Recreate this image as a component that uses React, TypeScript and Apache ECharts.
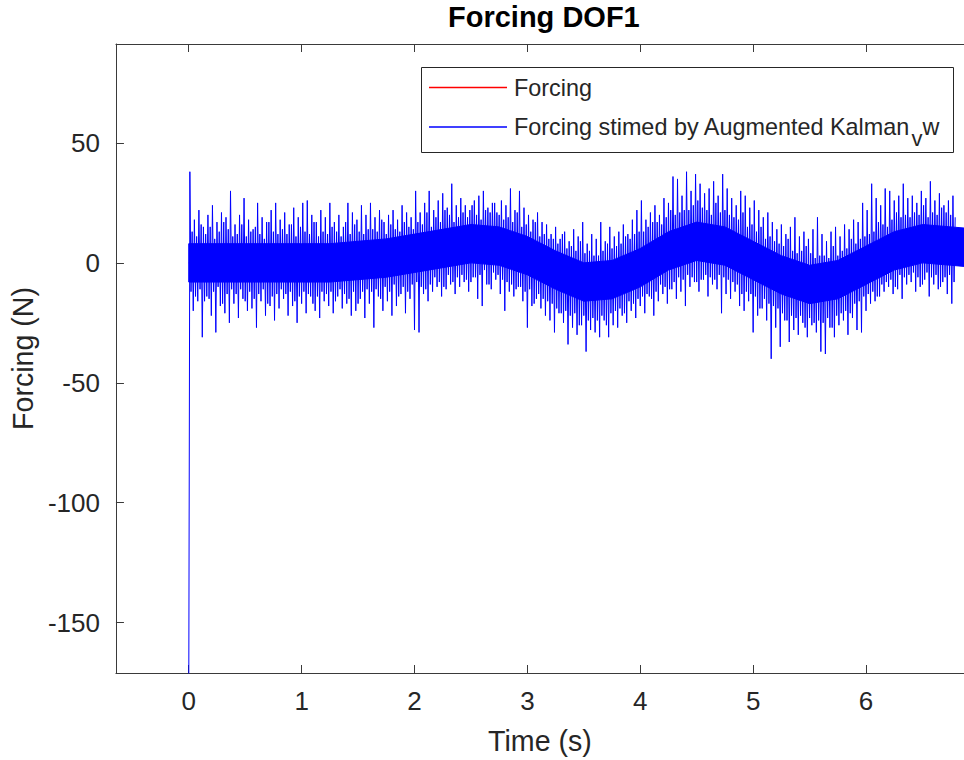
import React, { useEffect, useRef } from 'react';
import * as echarts from 'echarts';

// Sampling grids
const SPIKE_STEP = 0.04; // four samples per step: low, high, midLow, midHigh
const CORE_STEP = 0.25;

// Axis ticks
const xTicks = [0, 1, 2, 3, 4, 5, 6];
const yTicks = [-150, -100, -50, 0, 50];

// "Forcing" (red, lies under the estimate) at CORE_STEP
const forcing = [0, 0, 0, 0, 0, 0, 1, 2, 4, 6, 8, 7, 3, -3, -8, -7, -2, 5, 9, 7, 1, -5, -9, -7, -1, 5, 8, 7, 6];

// Dense core of the estimate (upper/lower edges) at CORE_STEP
const coreUpper = [8, 8, 8, 8, 8, 8, 9, 10, 12, 14, 16, 15, 11, 5, 0, 1, 6, 13, 17, 15, 9, 3, -1, 1, 7, 13, 16, 15, 14];
const coreLower = [-8, -8, -8, -8, -8, -8, -7, -6, -4, -2, 0, -1, -5, -11, -16, -15, -10, -3, 1, -1, -7, -13, -17, -15, -9, -3, 0, -1, -2];

// Tall spike peaks of the estimate
const highs = [
  38, 18, 22, 15, 20, 24, 17, 21, 19, 30,
  16, 20, 27, 18, 14, 25, 19, 17, 22, 25,
  18, 21, 16, 23, 19, 25, 26, 20, 17, 22,
  19, 25, 17, 20, 15, 25, 21, 18, 24, 20,
  25, 19, 22, 17, 20, 22, 18, 24, 21, 19,
  30, 21, 25, 30, 22, 26, 29, 23, 33, 24,
  27, 24, 22, 26, 28, 30, 23, 25, 21, 26,
  24, 31, 22, 30, 23, 20, 18, 21, 17, 16,
  12, 15, 10, 13, 9, 14, 11, 17, 8, 12,
  10, 17, 9, 15, 11, 13, 16, 12, 18, 22,
  26, 18, 21, 24, 20, 27, 25, 36, 35, 28,
  38, 30, 37, 33, 29, 31, 34, 28, 37, 31,
  27, 24, 30, 28, 23, 26, 22, 19, 21, 17,
  14, 16, 12, 15, 19, 11, 13, 10, 14, 19,
  12, 9, 13, 15, 11, 16, 14, 18, 17, 25,
  22, 33, 27, 24, 31, 30, 26, 28, 33, 27,
  28, 25, 30, 27, 34, 26, 29, 24, 26, 28,
];
const lows = [
  -185, -20, -16, -31, -14, -22, -29, -18, -21, -25,
  -17, -23, -15, -20, -19, -27, -16, -22, -18, -24,
  -19, -15, -22, -18, -25, -17, -21, -14, -20, -23,
  -16, -18, -21, -14, -19, -17, -22, -20, -15, -23,
  -17, -27, -14, -20, -16, -22, -18, -13, -21, -15,
  -28, -29, -13, -16, -12, -10, -14, -11, -9, -13,
  -10, -8, -12, -6, -15, -18, -9, -11, -7, -13,
  -20, -12, -14, -10, -16, -27, -18, -15, -19, -22,
  -24, -29, -21, -25, -34, -27, -30, -26, -37, -28,
  -29, -31, -24, -31, -26, -27, -22, -25, -20, -23,
  -18, -21, -14, -22, -16, -13, -17, -11, -15, -12,
  -18, -10, -8, -12, -7, -14, -9, -11, -21, -13,
  -15, -12, -18, -20, -16, -29, -22, -19, -24, -40,
  -27, -35, -24, -33, -28, -30, -25, -31, -26, -29,
  -37, -38, -27, -31, -26, -24, -30, -23, -28, -29,
  -20, -17, -16, -14, -12, -10, -13, -11, -15, -9,
  -8, -12, -10, -7, -14, -9, -11, -8, -13, -17,
];

// Medium spikes in between
const midHighs = [
  13, 11, 16, 12, 15, 10, 13, 17, 14, 11,
  12, 16, 11, 13, 15, 12, 10, 17, 13, 12,
  14, 12, 16, 11, 15, 13, 12, 17, 11, 13,
  12, 15, 13, 11, 17, 12, 16, 13, 12, 14,
  14, 13, 18, 12, 16, 14, 13, 17, 15, 14,
  17, 16, 21, 15, 19, 17, 22, 20, 17, 19,
  21, 19, 24, 20, 18, 22, 21, 25, 20, 18,
  19, 17, 21, 15, 16, 13, 17, 11, 12, 10,
  10, 8, 12, 6, 7, 5, 9, 4, 5, 3,
  3, 5, 8, 6, 7, 8, 11, 10, 12, 13,
  13, 15, 17, 17, 16, 19, 22, 20, 21, 22,
  22, 24, 26, 23, 22, 20, 25, 21, 22, 20,
  19, 18, 21, 15, 16, 13, 15, 10, 11, 9,
  8, 7, 10, 5, 4, 5, 7, 4, 2, 3,
  3, 2, 7, 3, 5, 6, 10, 8, 10, 11,
  12, 13, 17, 16, 15, 18, 21, 19, 20, 19,
  21, 20, 24, 19, 21, 20, 23, 21, 20, 19,
];
const midLows = [
  -12, -14, -11, -16, -15, -12, -10, -17, -13, -11,
  -13, -11, -16, -12, -15, -13, -11, -17, -14, -13,
  -11, -13, -12, -16, -14, -12, -13, -17, -14, -12,
  -13, -12, -16, -11, -13, -15, -12, -17, -12, -11,
  -12, -11, -15, -10, -12, -9, -14, -10, -12, -9,
  -8, -10, -11, -9, -6, -8, -10, -5, -8, -6,
  -5, -7, -8, -6, -5, -3, -9, -4, -5, -7,
  -8, -9, -11, -10, -12, -11, -17, -13, -15, -16,
  -17, -19, -21, -20, -22, -21, -26, -22, -24, -23,
  -24, -22, -26, -21, -20, -19, -21, -16, -17, -15,
  -14, -13, -15, -12, -9, -10, -11, -8, -6, -7,
  -5, -6, -8, -7, -5, -6, -7, -5, -6, -7,
  -8, -9, -13, -12, -13, -14, -19, -15, -17, -18,
  -19, -21, -24, -22, -23, -22, -27, -23, -25, -24,
  -25, -23, -27, -22, -21, -20, -21, -17, -16, -14,
  -13, -12, -14, -9, -8, -7, -10, -5, -6, -5,
  -4, -6, -9, -4, -6, -5, -10, -6, -5, -8,
];

const NAME_TRUE = 'Forcing';
const NAME_EST = 'Forcing stimed by Augmented Kalman_vw';
const LEGEND_MAIN = 'Forcing stimed by Augmented Kalman';
const LEGEND_SUB = 'v';
const LEGEND_TAIL = 'w';
const FONT = "'Liberation Sans', Arial, Helvetica, sans-serif";
const TEXT = '#262626';
const AXIS = '#3a3a3a';

function measure(text: string, size: number) {
  const c = document.createElement('canvas').getContext('2d');
  if (!c) return text.length * size * 0.5;
  c.font = `${size}px ${FONT}`;
  return c.measureText(text).width;
}

export default function App() {
  const ref = useRef<HTMLDivElement>(null);

  useEffect(() => {
    if (!ref.current) return;
    const chart = echarts.init(ref.current, undefined, { renderer: 'svg' });

    const forcingData = forcing.map((v, i) => [i * CORE_STEP, v]);
    const q = SPIKE_STEP / 4;
    const spikeData: number[][] = [];
    for (let i = 0; i < highs.length; i++) {
      const t = i * SPIKE_STEP;
      spikeData.push([t, lows[i]]);
      spikeData.push([t + q, highs[i]]);
      spikeData.push([t + 2 * q, midLows[i]]);
      spikeData.push([t + 3 * q, midHighs[i]]);
    }

    const xMin = -0.645;
    const xMax = 6.868;
    const yMin = -171;
    const yMax = 91.25;

    // legend geometry
    const LX = 421, LY = 67, LW = 532, LH = 85;
    const lineX0 = 429, lineX1 = 507, textX = 514;
    const row1 = 87.5, row2 = 127;
    const legendFont = 23.4;
    const subFont = 22;
    const mainW = measure(LEGEND_MAIN, legendFont);
    const subX = textX + mainW + 1;
    const tailX = subX + measure(LEGEND_SUB, subFont);

    chart.setOption({
      animation: false,
      backgroundColor: '#ffffff',
      title: {
        text: 'Forcing DOF1',
        left: 448,
        top: 2,
        padding: 0,
        textStyle: { fontFamily: FONT, fontSize: 29, fontWeight: 'bold', color: '#000' },
      },
      grid: { left: 113.3, top: 44, right: -11, bottom: 86.5, containLabel: false },
      xAxis: [
        {
          type: 'value',
          min: xMin,
          max: xMax,
          name: 'Time (s)',
          nameLocation: 'middle',
          nameGap: 53,
          nameTextStyle: { fontFamily: FONT, fontSize: 28.6, color: TEXT },
          axisLine: { show: true, onZero: false, lineStyle: { color: AXIS, width: 1 } },
          axisTick: { show: true, inside: true, length: 8, customValues: xTicks, lineStyle: { color: AXIS } },
          axisLabel: { customValues: xTicks, fontFamily: FONT, fontSize: 26, color: TEXT, margin: 15 },
          splitLine: { show: false },
        },
        {
          type: 'value',
          position: 'top',
          min: xMin,
          max: xMax,
          axisLine: { show: true, onZero: false, lineStyle: { color: AXIS, width: 1 } },
          axisTick: { show: true, inside: true, length: 8, customValues: xTicks, lineStyle: { color: AXIS } },
          axisLabel: { show: false },
          splitLine: { show: false },
        },
      ],
      yAxis: [
        {
          type: 'value',
          min: yMin,
          max: yMax,
          name: 'Forcing (N)',
          nameLocation: 'middle',
          nameGap: 70,
          nameTextStyle: { fontFamily: FONT, fontSize: 28.6, color: TEXT },
          axisLine: { show: true, onZero: false, lineStyle: { color: AXIS, width: 1 } },
          axisTick: { show: true, inside: true, length: 8, customValues: yTicks, lineStyle: { color: AXIS } },
          axisLabel: { customValues: yTicks, fontFamily: FONT, fontSize: 26, color: TEXT, margin: 16 },
          splitLine: { show: false },
        },
      ],
      graphic: [
        {
          type: 'group',
          z: 100,
          children: [
            {
              type: 'rect',
              shape: { x: LX + 0.5, y: LY + 0.5, width: LW, height: LH },
              style: { fill: '#ffffff', stroke: '#262626', lineWidth: 1 },
            },
            {
              type: 'rect',
              shape: { x: lineX0, y: row1 - 0.7, width: lineX1 - lineX0, height: 1.4 },
              style: { fill: '#ff0000' },
            },
            {
              type: 'rect',
              shape: { x: lineX0, y: row2 - 0.7, width: lineX1 - lineX0, height: 1.4 },
              style: { fill: '#0000ff' },
            },
            {
              type: 'text',
              style: { text: NAME_TRUE, x: textX, y: row1, fontSize: legendFont, fontFamily: FONT, fill: TEXT, verticalAlign: 'middle' },
            },
            {
              type: 'text',
              style: { text: LEGEND_MAIN, x: textX, y: row2, fontSize: legendFont, fontFamily: FONT, fill: TEXT, verticalAlign: 'middle' },
            },
            {
              type: 'text',
              style: { text: LEGEND_SUB, x: subX, y: row2 + 11, fontSize: subFont, fontFamily: FONT, fill: TEXT, verticalAlign: 'middle' },
            },
            {
              type: 'text',
              style: { text: LEGEND_TAIL, x: tailX, y: row2, fontSize: legendFont, fontFamily: FONT, fill: TEXT, verticalAlign: 'middle' },
            },
          ],
        },
      ],
      series: [
        {
          name: NAME_TRUE,
          type: 'line',
          data: forcingData,
          symbol: 'none',
          lineStyle: { color: '#ff0000', width: 1 },
          itemStyle: { color: '#ff0000' },
          clip: true,
          z: 2,
        },
        {
          name: 'core',
          type: 'custom',
          data: [[0, 0]],
          clip: true,
          silent: true,
          z: 3,
          renderItem: (params: any, api: any) => {
            if (params.dataIndex !== 0) return null;
            const top = coreUpper.map((v, i) => api.coord([i * CORE_STEP, v]));
            const bottom = coreLower.map((v, i) => api.coord([i * CORE_STEP, v])).reverse();
            return {
              type: 'polygon',
              shape: { points: top.concat(bottom) },
              style: { fill: '#0000ff', stroke: '#0000ff', lineWidth: 1 },
            };
          },
        },
        {
          name: NAME_EST,
          type: 'line',
          data: spikeData,
          symbol: 'none',
          lineStyle: { color: '#0000ff', width: 1 },
          itemStyle: { color: '#0000ff' },
          clip: true,
          z: 4,
        },
      ],
    });

    return () => chart.dispose();
  }, []);

  return <div ref={ref} style={{ position: 'fixed', left: 0, top: 0, width: 964, height: 760 }} />;
}
